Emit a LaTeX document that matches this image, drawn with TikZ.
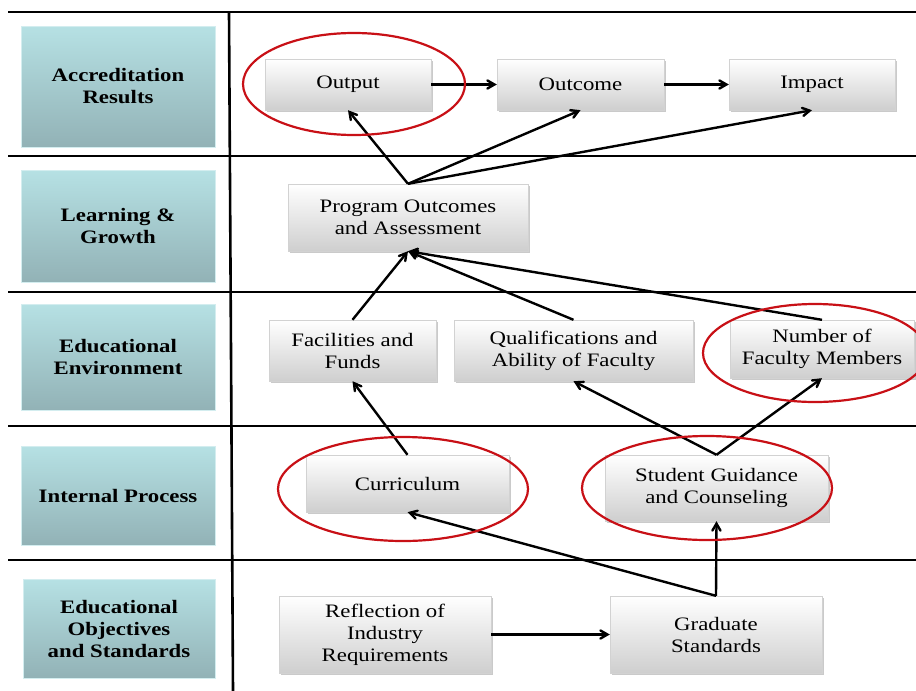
\documentclass[tikz,border=0pt]{standalone}
\usepackage{fontspec}
\setmainfont{Liberation Serif}[FakeStretch=1.2]
\usetikzlibrary{arrows,shadows}
\definecolor{tealtop}{RGB}{182,225,228}
\definecolor{tealbot}{RGB}{146,178,182}
\definecolor{ringred}{RGB}{200,16,22}

\begin{document}
\begin{tikzpicture}[x=1pt,y=-1pt]
\tikzstyle{every node}=[align=center, inner sep=2pt, font=\fontsize{19}{22}\selectfont]
\tikzstyle{lbox}=[rectangle, top color=tealtop, bottom color=tealbot, draw=tealtop!60, minimum width=194pt, font=\fontsize{19}{22}\selectfont\bfseries]
\tikzstyle{gbox}=[rectangle, top color=white, bottom color=gray!38, draw=gray!35, drop shadow={shadow xshift=2pt, shadow yshift=-2pt, fill=gray!70, opacity=.6}]
\tikzstyle{link}=[->, >=angle 60, line width=2.4pt]
\tikzstyle{ring}=[draw=ringred, line width=2.2pt]
\useasboundingbox (0,0) rectangle (916,691);
% grid
\draw[line width=2.6pt] (8,12) -- (916,12);
\draw[line width=2.6pt] (8,156) -- (916,156);
\draw[line width=2.6pt] (8,292) -- (916,292);
\draw[line width=2.6pt] (8,426) -- (916,426);
\draw[line width=2.6pt] (8,560) -- (916,560);
\draw[line width=2.6pt] (229,12) -- (233,691);
% row labels
\draw (118,86.5) node (lab1) [lbox, minimum height=121pt] {Accreditation\\Results};
\draw (118,226) node (lab2) [lbox, minimum height=112pt] {Learning \&\\Growth};
\draw (118,357) node (lab3) [lbox, minimum height=106pt] {Educational\\Environment};
\draw (118,495.5) node (lab4) [lbox, minimum height=99pt] {Internal Process};
\draw (119,628.5) node (lab5) [lbox, minimum width=192pt, minimum height=99pt] {Educational\\Objectives\\and Standards};
% boxes
\draw (348,84.5) node (output) [gbox, minimum width=166pt, minimum height=51pt] {Output};
\draw (580.5,84.5) node (outcome) [gbox, minimum width=167pt, minimum height=51pt] {Outcome};
\draw (812,84.5) node (impact) [gbox, minimum width=166pt, minimum height=51pt] {Impact};
\draw (408,217.5) node (prog) [gbox, minimum width=240pt, minimum height=67pt] {Program Outcomes\\and Assessment};
\draw (352.5,350.5) node (fac) [gbox, minimum width=167pt, minimum height=61pt] {Facilities and\\Funds};
\draw (573.5,350.5) node (qual) [gbox, minimum width=239pt, minimum height=61pt] {Qualifications and\\Ability of Faculty};
\draw (822,349) node (num) [gbox, minimum width=184pt, minimum height=58pt] {Number of\\Faculty Members};
\draw (407.5,483.5) node (curr) [gbox, minimum width=203pt, minimum height=57pt] {Curriculum};
\draw (716.5,488) node (sgc) [gbox, minimum width=223pt, minimum height=66pt] {Student Guidance\\and Counseling};
\draw (385,634.5) node (refl) [gbox, minimum width=212pt, minimum height=77pt] {Reflection of\\Industry\\Requirements};
\draw (716,634.5) node (grad) [gbox, minimum width=212pt, minimum height=77pt] {Graduate\\Standards};
% links
\draw[link] (output) -- (outcome);
\draw[link] (outcome) -- (impact);
\draw[link] (prog.north) -- (output.south);
\draw[link] (prog.north) -- (outcome.south);
\draw[link] (prog.north) -- (impact.south);
\draw[link] (fac.north) -- (prog.south);
\draw[link] (qual.north) -- (prog.south);
\draw[link] (num.north) -- (prog.south);
\draw[link] (curr.north) -- (fac.south);
\draw[link] (sgc.north) -- (qual.south);
\draw[link] (sgc.north) -- (num.south);
\draw[link] (grad.north) -- (sgc.south);
\draw[link] (grad.north) -- (curr.south);
\draw[link] (refl) -- (grad);
% highlights
\draw[ring] (354,84) ellipse [x radius=111, y radius=51];
\draw[ring] (815,353) ellipse [x radius=112, y radius=49];
\draw[ring] (403,489) ellipse [x radius=125, y radius=52];
\draw[ring] (707,488) ellipse [x radius=125, y radius=52];
\end{tikzpicture}
\end{document}
